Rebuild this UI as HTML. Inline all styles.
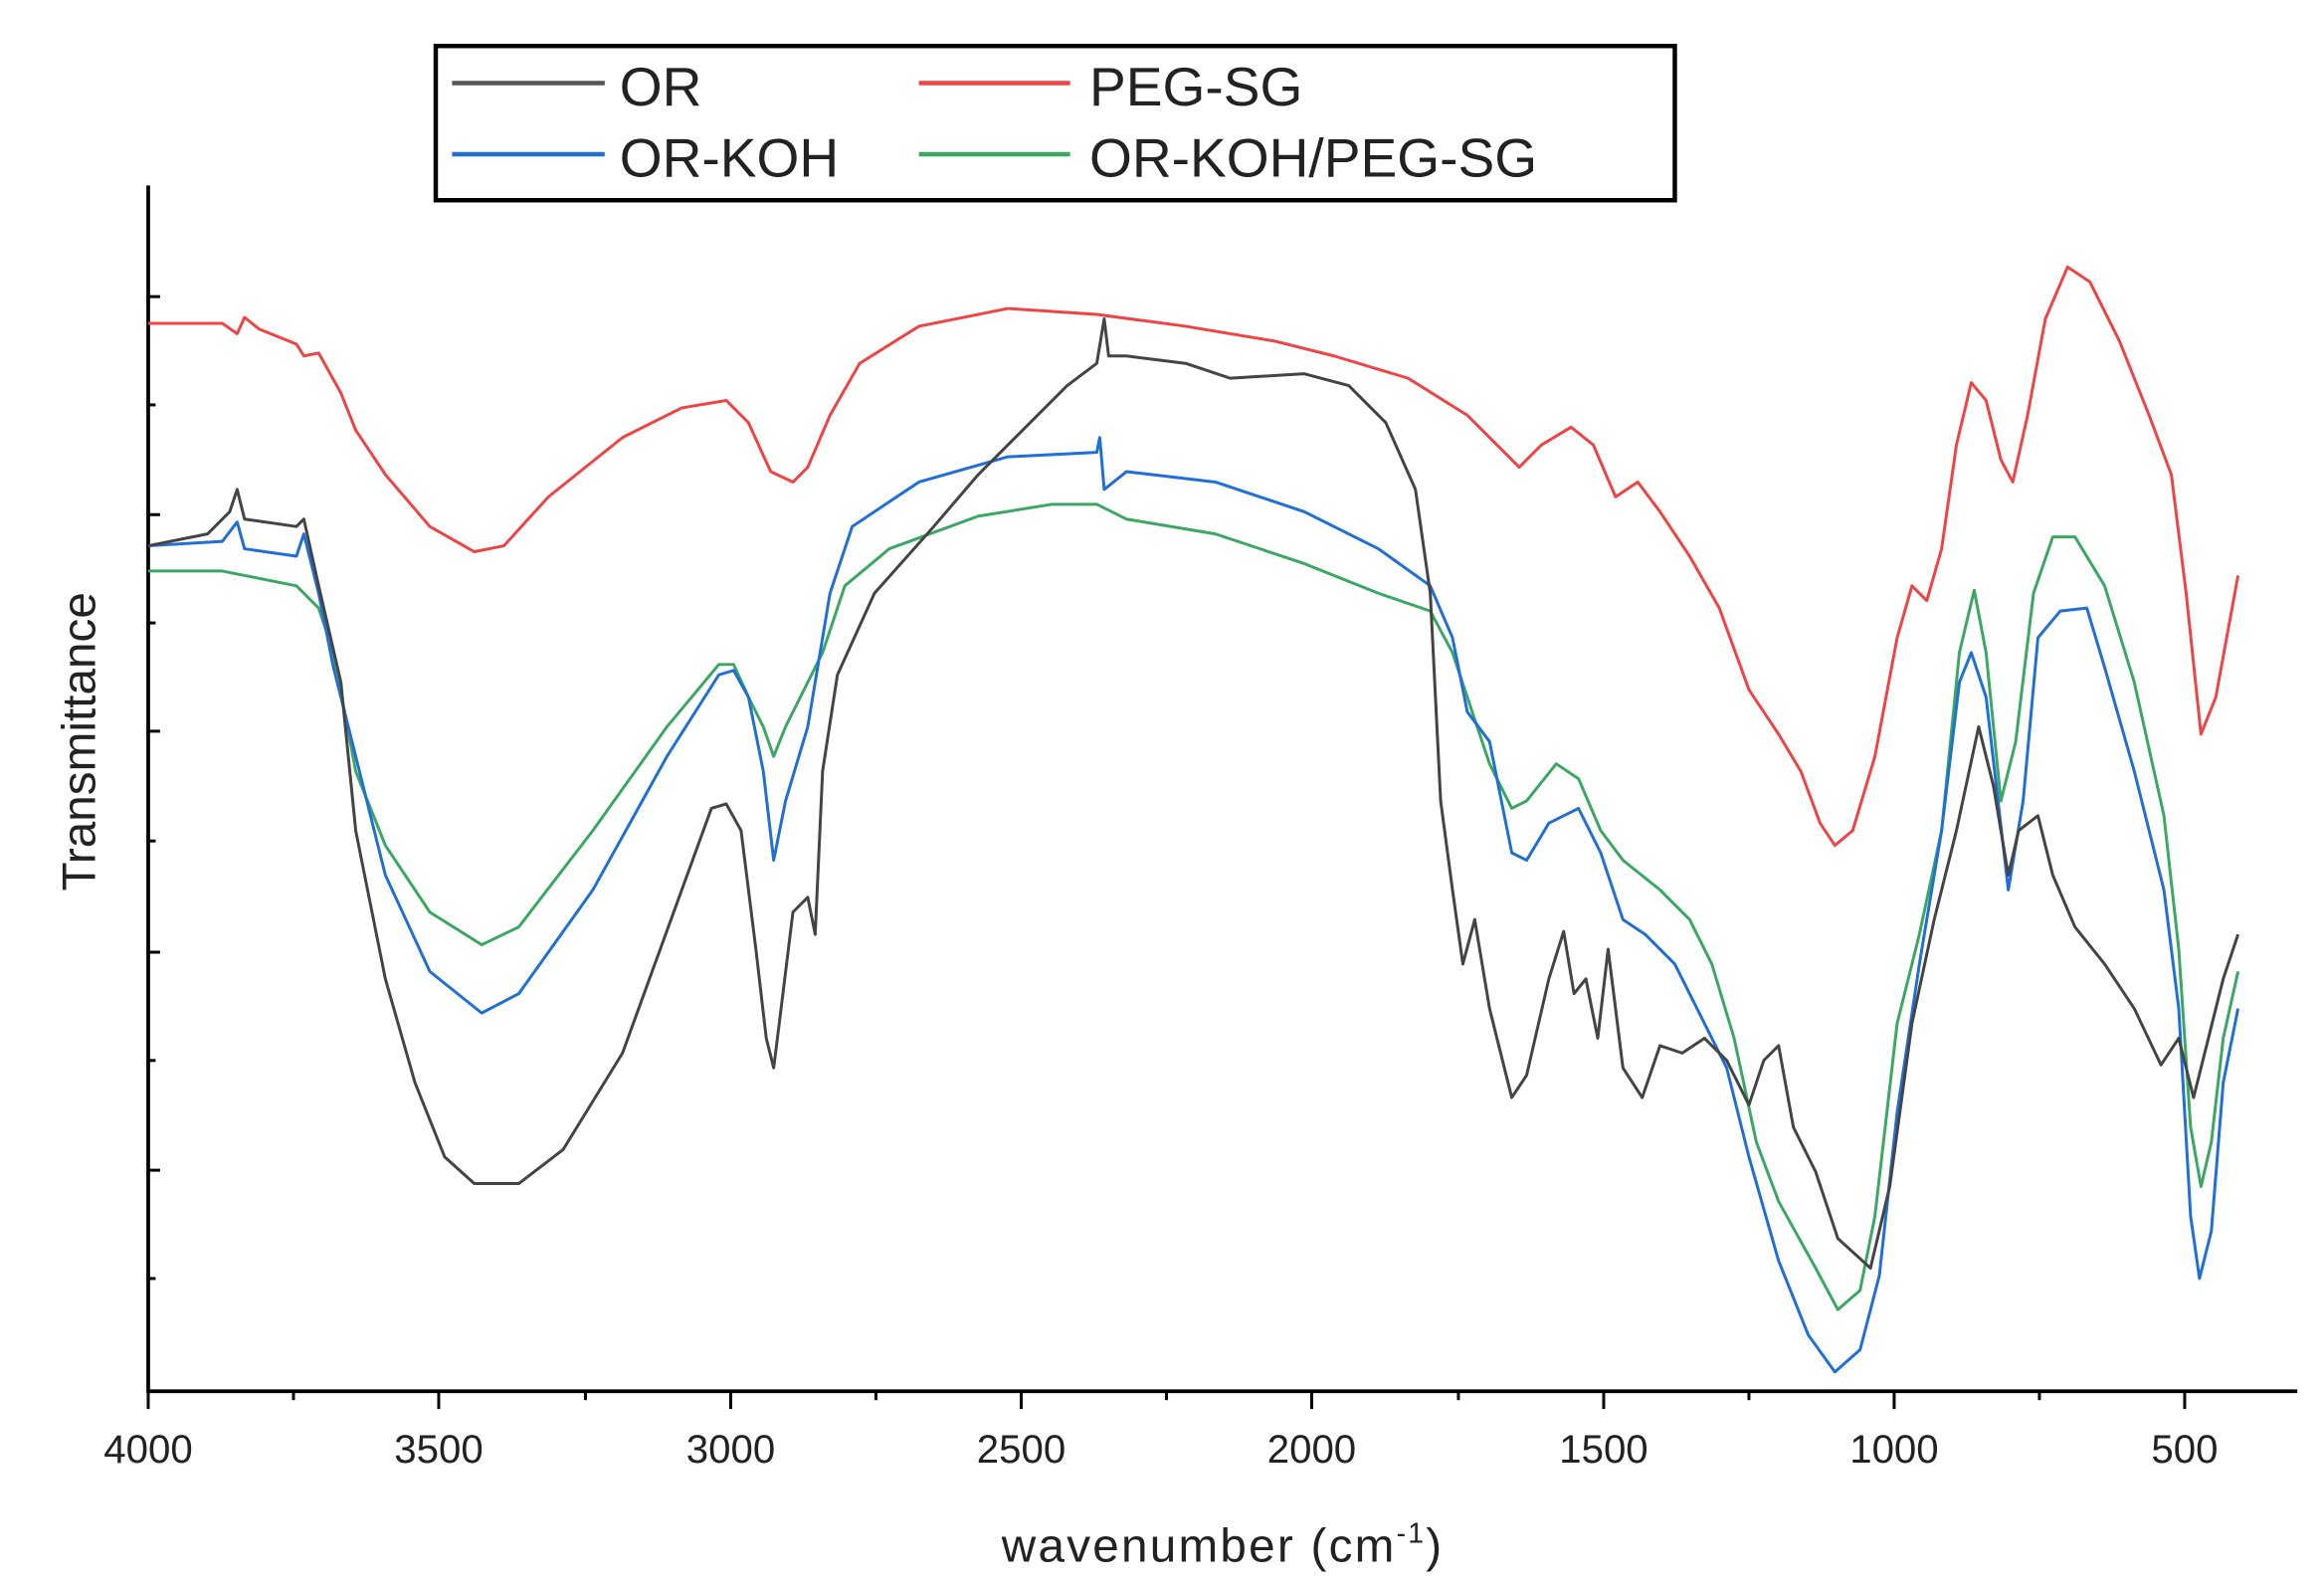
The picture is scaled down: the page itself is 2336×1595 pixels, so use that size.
<!DOCTYPE html>
<html><head><meta charset="utf-8"><style>
html,body{margin:0;padding:0;background:#fff;}
svg{display:block;}
text{font-family:"Liberation Sans",sans-serif;fill:#222;}
</style></head><body>
<svg width="2336" height="1595" viewBox="0 0 1568 1070" preserveAspectRatio="none" xmlns="http://www.w3.org/2000/svg">
<rect width="1568" height="1070" fill="#fff"/>
<line x1="100" y1="125" x2="100" y2="939" stroke="#000" stroke-width="2.5"/>
<line x1="99" y1="938" x2="1550" y2="938" stroke="#000" stroke-width="2.5"/>
<g stroke="#000" stroke-width="2">
<line x1="100" y1="938" x2="100" y2="950"/><line x1="198" y1="938" x2="198" y2="944"/>
<line x1="296" y1="938" x2="296" y2="950"/><line x1="395" y1="938" x2="395" y2="944"/>
<line x1="493" y1="938" x2="493" y2="950"/><line x1="591" y1="938" x2="591" y2="944"/>
<line x1="689" y1="938" x2="689" y2="950"/><line x1="787" y1="938" x2="787" y2="944"/>
<line x1="885" y1="938" x2="885" y2="950"/><line x1="984" y1="938" x2="984" y2="944"/>
<line x1="1082" y1="938" x2="1082" y2="950"/><line x1="1180" y1="938" x2="1180" y2="944"/>
<line x1="1278" y1="938" x2="1278" y2="950"/><line x1="1376" y1="938" x2="1376" y2="944"/>
<line x1="1474" y1="938" x2="1474" y2="950"/>
<line x1="100" y1="200" x2="108" y2="200"/><line x1="100" y1="273" x2="105" y2="273"/>
<line x1="100" y1="347" x2="108" y2="347"/><line x1="100" y1="420" x2="105" y2="420"/>
<line x1="100" y1="493" x2="108" y2="493"/><line x1="100" y1="567" x2="105" y2="567"/>
<line x1="100" y1="642" x2="108" y2="642"/><line x1="100" y1="715" x2="105" y2="715"/>
<line x1="100" y1="789" x2="108" y2="789"/><line x1="100" y1="862" x2="105" y2="862"/>
</g>
<g font-size="27" text-anchor="middle" fill="#111">
<text x="100" y="986">4000</text><text x="296" y="986">3500</text><text x="493" y="986">3000</text>
<text x="689" y="986">2500</text><text x="885" y="986">2000</text><text x="1082" y="986">1500</text>
<text x="1278" y="986">1000</text><text x="1474" y="986">500</text>
</g>
<text x="825" y="1053" font-size="32" text-anchor="middle" letter-spacing="1.5">wavenumber (cm<tspan font-size="19" dy="-13">-1</tspan><tspan dy="13">)</tspan></text>
<text transform="translate(64,500) rotate(-90)" font-size="32" text-anchor="middle">Transmittance</text>
<rect x="294" y="31" width="836" height="104" fill="#fff" stroke="#000" stroke-width="3"/>
<line x1="305" y1="56" x2="408" y2="56" stroke="#555" stroke-width="3"/>
<line x1="620" y1="56" x2="722" y2="56" stroke="#ee4444" stroke-width="3"/>
<line x1="305" y1="104" x2="408" y2="104" stroke="#1f6fd6" stroke-width="3"/>
<line x1="620" y1="104" x2="722" y2="104" stroke="#3aa862" stroke-width="3"/>
<g font-size="37" fill="#111"><text x="418" y="71">OR</text><text x="735" y="71">PEG-SG</text>
<text x="418" y="119">OR-KOH</text><text x="735" y="119">OR-KOH/PEG-SG</text></g>
<g fill="none" stroke-width="2" stroke-linejoin="round">
<polyline stroke="#ee4444" points="100,218 150,218 160,225 165,214 175,222 200,232 205,240 215,238 230,265 240,290 260,320 290,355 320,372 340,368 370,335 420,295 460,275 490,270 505,285 520,318 535,325 545,315 560,280 580,245 620,220 680,208 740,212 800,220 860,230 900,240 950,255 990,280 1010,300 1025,315 1040,300 1060,288 1075,300 1090,335 1105,325 1120,345 1140,375 1160,410 1180,465 1200,495 1215,520 1228,555 1238,570 1250,560 1265,510 1280,430 1290,395 1300,405 1310,370 1320,300 1330,258 1340,270 1350,310 1358,325 1368,280 1380,215 1395,180 1410,190 1430,230 1450,280 1465,320 1475,400 1485,495 1495,470 1510,388"/>
<polyline stroke="#3aa862" points="100,385 150,385 200,395 215,410 225,440 240,520 260,570 290,615 325,637 350,625 400,560 450,490 485,448 495,448 505,470 515,490 522,510 530,490 555,440 570,395 600,370 660,348 710,340 740,340 760,350 820,360 880,380 930,400 965,412 980,440 990,470 1005,515 1020,545 1030,540 1050,515 1065,525 1080,560 1095,580 1120,600 1140,620 1155,650 1170,700 1185,770 1200,810 1225,855 1240,883 1255,870 1265,820 1280,690 1295,630 1310,560 1322,440 1332,398 1340,440 1350,540 1360,500 1372,400 1385,362 1400,362 1420,395 1440,460 1460,550 1470,640 1478,760 1485,800 1492,770 1500,700 1510,655"/>
<polyline stroke="#1f6fd6" points="100,368 150,365 160,352 165,370 200,375 205,360 215,400 225,450 240,510 260,590 290,655 325,683 350,670 400,600 450,510 485,455 495,452 505,470 515,520 522,580 530,540 545,490 560,400 575,355 620,325 680,308 740,305 742,295 745,330 760,318 820,325 880,345 930,370 965,395 980,430 990,480 1005,500 1020,575 1030,580 1045,555 1065,545 1080,575 1095,620 1110,630 1130,650 1150,690 1165,720 1180,780 1200,850 1220,900 1238,925 1255,910 1268,860 1280,750 1295,650 1310,560 1322,460 1330,440 1340,470 1355,600 1365,540 1375,430 1390,412 1408,410 1420,450 1440,520 1460,600 1470,680 1478,820 1484,862 1492,830 1500,730 1510,680"/>
<polyline stroke="#444" points="100,368 140,360 155,345 160,330 165,350 200,355 205,350 215,395 230,460 240,560 260,660 280,730 300,780 320,798 350,798 380,775 420,710 460,600 480,545 490,542 500,560 510,640 517,700 522,720 527,680 535,615 545,605 550,630 555,520 565,455 590,400 630,355 660,320 690,290 720,260 740,245 745,215 748,240 760,240 800,245 830,255 880,252 910,260 935,285 955,330 965,400 972,540 980,600 987,650 995,620 1005,680 1020,740 1030,725 1045,660 1055,628 1062,670 1070,660 1078,700 1085,640 1095,720 1108,740 1120,705 1135,710 1150,700 1165,715 1180,745 1190,715 1200,705 1210,760 1225,790 1240,835 1262,855 1275,800 1290,690 1305,620 1320,560 1335,490 1345,530 1355,590 1362,560 1375,550 1385,590 1400,625 1420,650 1440,680 1458,718 1470,700 1480,740 1490,700 1500,660 1510,630"/>
</g>
</svg>
</body></html>
